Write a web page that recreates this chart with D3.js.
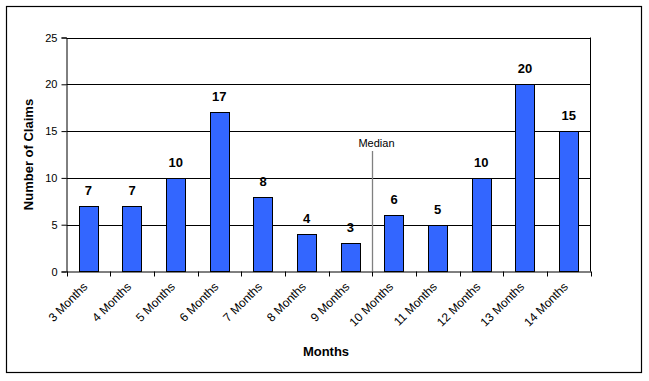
<!DOCTYPE html>
<html><head><meta charset="utf-8">
<script src="https://cdn.jsdelivr.net/npm/d3@7"></script>
<style>body{margin:0;background:#fff}svg{display:block;font-family:"Liberation Sans",Arial,sans-serif}</style>
</head><body>
<script>
const categories = ["3 Months","4 Months","5 Months","6 Months","7 Months","8 Months","9 Months","10 Months","11 Months","12 Months","13 Months","14 Months"];
const claims = [7,7,10,17,8,4,3,6,5,10,20,15];
const yTicks = [0,5,10,15,20,25];
const medianAfter = "9 Months";
const medianLabel = "Median";
const xTitle = "Months";
const yTitle = "Number of Claims";

const W = 649, H = 381;
const m = {left:66.5, right:590.5, top:37.5, bottom:271.5};
const svg = d3.select("body").append("svg").attr("width",W).attr("height",H);
svg.append("rect").attr("x",6.5).attr("y",6.5).attr("width",635).attr("height",366)
  .attr("fill","#fff").attr("stroke","#000").attr("stroke-width",1.2);

const x = d3.scaleBand().domain(categories).range([m.left,m.right]).paddingInner(0).paddingOuter(0);
const y = d3.scaleLinear().domain([0,25]).range([m.bottom,m.top]);

// gridlines
svg.append("g").selectAll("line").data(yTicks.filter(d=>d>0)).join("line")
  .attr("x1",m.left).attr("x2",m.right).attr("y1",d=>Math.round(y(d))+0.5).attr("y2",d=>Math.round(y(d))+0.5)
  .attr("stroke","#000").attr("stroke-width",1);
// right border
svg.append("line").attr("x1",m.right).attr("x2",m.right).attr("y1",m.top).attr("y2",m.bottom).attr("stroke","#000");

// y axis
const yAxis = d3.axisLeft(y).tickValues(yTicks).tickSize(5).tickPadding(4);
const gy = svg.append("g").attr("transform",`translate(${m.left},0)`).call(yAxis);
gy.select(".domain").attr("stroke","#000");
gy.selectAll(".tick line").attr("stroke","#000");
gy.selectAll("text").attr("font-size",11).attr("fill","#000").attr("font-family","Liberation Sans, Arial, sans-serif");

// bars
const bw = x.bandwidth()*0.44;
svg.append("g").selectAll("rect").data(categories).join("rect")
  .attr("x",(d)=>Math.round(x(d)+x.bandwidth()/2-bw/2)+0.5)
  .attr("width",Math.round(bw))
  .attr("y",(d,i)=>Math.round(y(claims[i]))+0.5)
  .attr("height",(d,i)=>m.bottom-Math.round(y(claims[i]))-0.5)
  .attr("fill","#3366FF").attr("stroke","#000").attr("stroke-width",1);

// value labels
svg.append("g").selectAll("text").data(categories).join("text")
  .attr("x",d=>x(d)+x.bandwidth()/2)
  .attr("y",(d,i)=>y(claims[i])-11)
  .attr("text-anchor","middle").attr("font-size",13).attr("font-weight","bold")
  .text((d,i)=>claims[i]);

// x axis
const xAxis = d3.axisBottom(x).tickSize(0).tickFormat("");
const gx = svg.append("g").attr("transform",`translate(0,${m.bottom})`).call(xAxis);
gx.select(".domain").attr("stroke","#000");
const bounds = categories.map(d=>x(d)).concat([m.right]);
svg.append("g").selectAll("line").data(bounds).join("line")
  .attr("x1",d=>Math.round(d)+0.5).attr("x2",d=>Math.round(d)+0.5)
  .attr("y1",m.bottom).attr("y2",m.bottom+5).attr("stroke","#000");
svg.append("g").selectAll("text").data(categories).join("text")
  .attr("transform",d=>`translate(${x(d)+x.bandwidth()/2},${m.bottom+16}) rotate(-45)`)
  .attr("text-anchor","end").attr("font-size",12).text(d=>d);

// median
const mx = Math.round(x(medianAfter)+x.bandwidth())+0.5;
svg.append("line").attr("x1",mx).attr("x2",mx).attr("y1",151).attr("y2",m.bottom)
  .attr("stroke","#808080").attr("stroke-width",1.3);
svg.append("text").attr("x",mx+4).attr("y",147).attr("text-anchor","middle").attr("font-size",11).text(medianLabel);

// titles
svg.append("text").attr("x",326).attr("y",356).attr("text-anchor","middle").attr("font-size",13).attr("font-weight","bold").text(xTitle);
svg.append("text").attr("transform",`translate(33,${(m.top+m.bottom)/2}) rotate(-90)`)
  .attr("text-anchor","middle").attr("font-size",13).attr("font-weight","bold").text(yTitle);
</script>
</body></html>
